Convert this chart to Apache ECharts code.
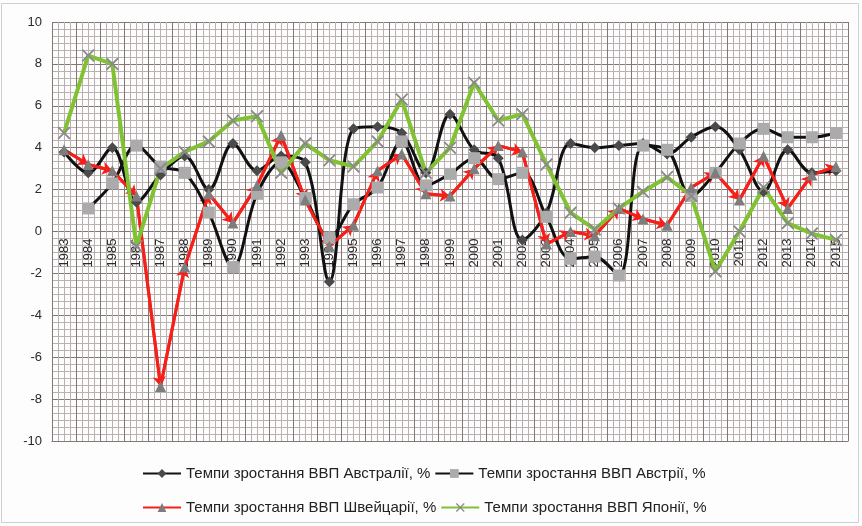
<!DOCTYPE html>
<html><head><meta charset="utf-8">
<script src="https://cdn.jsdelivr.net/npm/echarts@6/dist/echarts.min.js"></script>
<style>html,body{margin:0;padding:0;background:#fdfdfd}#c{width:862px;height:526px}</style>
</head><body><div id="c"></div>
<script>
const years = ['1983','1984','1985','1986','1987','1988','1989','1990','1991','1992','1993','1994','1995','1996','1997','1998','1999','2000','2001','2002','2003','2004','2005','2006','2007','2008','2009','2010','2011','2012','2013','2014','2015'];
const australia = [3.8,2.8,4.0,1.4,2.7,3.6,2.0,4.2,2.9,3.6,3.3,-2.4,4.9,5.0,4.7,2.8,5.6,3.9,3.5,-0.4,0.9,4.2,4.0,4.1,4.2,3.7,4.5,5.0,3.9,1.9,3.9,2.8,2.9];
const austria = [null,1.1,2.3,4.1,3.1,2.8,0.9,-1.7,1.8,3.3,1.6,-0.3,1.3,2.1,4.3,2.2,2.75,3.5,2.5,2.8,0.7,-1.3,-1.2,-2.1,4.1,3.9,1.7,2.8,4.2,4.9,4.5,4.5,4.7];
const swiss = [3.9,3.2,2.9,1.7,-7.4,-1.7,1.8,0.4,2.2,4.6,1.5,-0.7,0.3,2.9,3.7,1.8,1.7,3.0,4.1,3.8,-0.6,0.0,-0.2,1.1,0.6,0.3,2.1,2.8,1.5,3.6,1.1,2.7,3.1];
const japan = [4.7,8.4,8.0,-0.7,3.0,3.8,4.3,5.3,5.5,2.8,4.2,3.4,3.1,4.3,6.3,2.8,4.0,7.1,5.3,5.6,3.2,0.9,0.1,1.1,1.9,2.6,1.7,-1.9,0.0,2.1,0.4,-0.1,-0.4];
const seriesNames = ['Темпи зростання ВВП Австралії, %','Темпи зростання ВВП Австрії, %','Темпи зростання ВВП Швейцарії, %','Темпи зростання ВВП Японії, %'];
const yMin = -10, yMax = 10, yStep = 2;

const FONT = 'Liberation Sans';
const major = '#857676', minor = '#bcb1b1';
const xShape = 'path://M0,1L1,0L5,4L9,0L10,1L6,5L10,9L9,10L5,6L1,10L0,9L4,5Z';

const W = 862, H = 526, gTop = 22, gBottom = 85, gLeft = 52, gRight = 14;
const plotH = H - gTop - gBottom;
// distance from the bottom edge of the plot to the value 0 line
const zeroFromBottom = plotH * (0 - yMin) / (yMax - yMin);

const swissSegments = [];
for (let i = 0; i < swiss.length - 1; i++) {
  swissSegments.push({coords: [[i, swiss[i]], [i + 1, swiss[i + 1]]]});
}

const chart = echarts.init(document.getElementById('c'));
chart.setOption({
  backgroundColor: '#fdfdfd',
  animation: false,
  textStyle: {fontFamily: FONT},
  grid: {left: gLeft, right: gRight, top: gTop, bottom: gBottom, containLabel: false},
  graphic: [{type: 'rect', shape: {x: 1.5, y: 3.5, width: 857, height: 519}, style: {fill: 'none', stroke: '#cfcfcf', lineWidth: 1}, silent: true, z: -10}],
  legend: [
    {data: [seriesNames[0], seriesNames[1]], left: 137, top: 461, itemWidth: 38, itemHeight: 11, itemGap: 4,
     textStyle: {fontSize: 15, color: '#222', fontFamily: FONT}},
    {data: [seriesNames[2], seriesNames[3]], left: 137, top: 495, itemWidth: 38, itemHeight: 11, itemGap: 4,
     textStyle: {fontSize: 15, color: '#222', fontFamily: FONT}}
  ],
  xAxis: [
    {type: 'category', data: years, boundaryGap: true,
     axisLine: {show: true, onZero: false, lineStyle: {color: major, width: 1}},
     axisTick: {show: false},
     axisLabel: {rotate: 90, margin: -zeroFromBottom + 7, fontSize: 13, color: '#2a2a2a', fontFamily: FONT},
     splitLine: {show: false}},
    {type: 'value', min: 0, max: years.length, interval: 1, position: 'top',
     axisLine: {show: false, onZero: false}, axisTick: {show: false}, axisLabel: {show: false},
     splitLine: {show: true, lineStyle: {color: major, width: 1}},
     minorTick: {show: false, splitNumber: 4},
     minorSplitLine: {show: true, lineStyle: {color: minor, width: 1}}}
  ],
  yAxis: {type: 'value', min: yMin, max: yMax, interval: yStep,
    axisLine: {show: false}, axisTick: {show: false},
    axisLabel: {fontSize: 13, color: '#2a2a2a', margin: 10, fontFamily: FONT},
    splitLine: {show: true, lineStyle: {color: major, width: 1}},
    minorTick: {show: false, splitNumber: 6},
    minorSplitLine: {show: true, lineStyle: {color: minor, width: 1}}},
  series: [
    {name: seriesNames[0], type: 'line', data: australia, smooth: 0.35,
     lineStyle: {color: '#111', width: 3}, itemStyle: {color: '#4a4a4a'},
     symbol: 'diamond', symbolSize: 11, showAllSymbol: true},
    {name: seriesNames[1], type: 'line', data: austria, smooth: 0.35, connectNulls: false,
     lineStyle: {color: '#111', width: 3}, itemStyle: {color: '#ababab'},
     symbol: 'rect', symbolSize: 12, showAllSymbol: true},
    {name: 'swissArrows', type: 'lines', coordinateSystem: 'cartesian2d', xAxisIndex: 0, yAxisIndex: 0,
     data: swissSegments, symbol: ['none', 'arrow'], symbolSize: 10,
     lineStyle: {color: '#f5201a', width: 3, opacity: 1}, silent: true},
    {name: seriesNames[2], type: 'line', data: swiss,
     lineStyle: {color: '#f5201a', width: 3}, itemStyle: {color: '#7d7d7d'},
     symbol: 'triangle', symbolSize: 11, showAllSymbol: true},
    {name: seriesNames[3], type: 'line', data: japan,
     lineStyle: {color: '#80c232', width: 4}, itemStyle: {color: '#8a8a8a'},
     symbol: xShape, symbolSize: 13, showAllSymbol: true}
  ]
});
</script></body></html>
